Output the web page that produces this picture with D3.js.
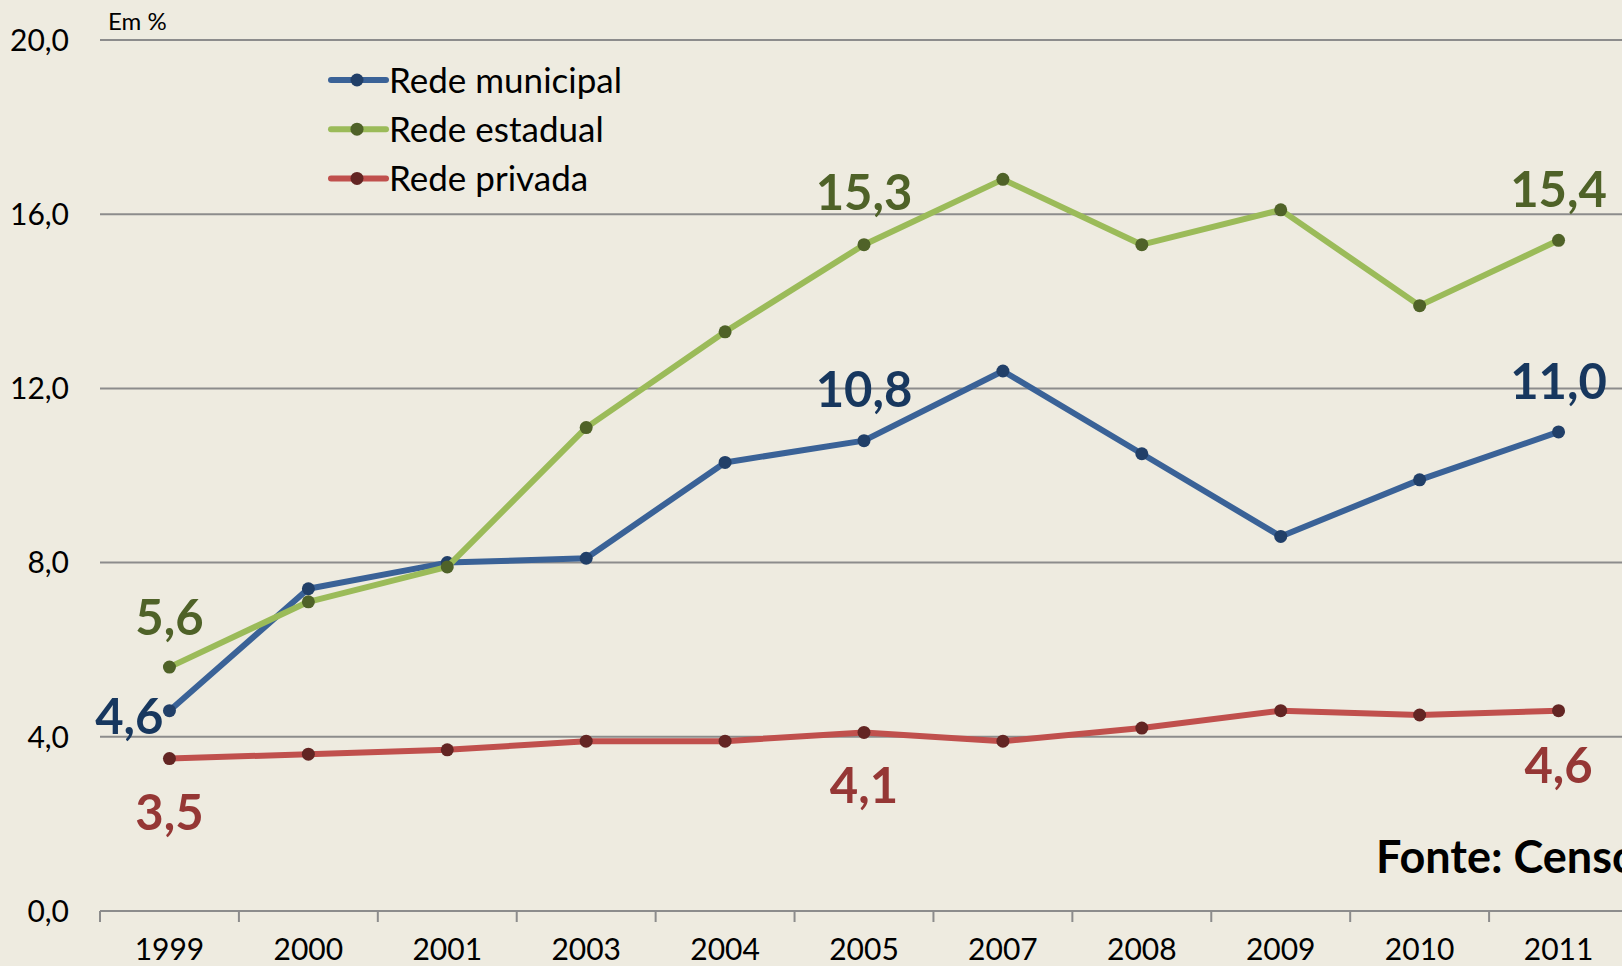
<!DOCTYPE html>
<meta charset="utf-8">
<style>
body { margin: 0; background: #eeebe0; }
svg { display: block; font-family: Lato, "Open Sans", sans-serif; }
.grid line { stroke: #8c8c8c; stroke-width: 2; }
.tick-label { font-size: 30px; fill: #000; }
</style>
<body>
<script src="https://d3js.org/d3.v7.min.js"></script>
<script>

// data
var years = ["1999", "2000", "2001", "2003", "2004", "2005", "2007", "2008", "2009", "2010", "2011"];
var municipal = [4.6, 7.4, 8.0, 8.1, 10.3, 10.8, 12.4, 10.5, 8.6, 9.9, 11.0];
var estadual  = [5.6, 7.1, 7.9, 11.1, 13.3, 15.3, 16.8, 15.3, 16.1, 13.9, 15.4];
var privada   = [3.5, 3.6, 3.7, 3.9, 3.9, 4.1, 3.9, 4.2, 4.6, 4.5, 4.6];
var yTicks = [0, 4, 8, 12, 16, 20];
var seriesNames = ["Rede municipal", "Rede estadual", "Rede privada"];

var w = 1622, h = 966;

var series = [
    {name: seriesNames[0], values: municipal, line: "#3a6297", dot: "#213f68", label: "#17375e"},
    {name: seriesNames[1], values: estadual,  line: "#9bbb59", dot: "#4f6228", label: "#4f6228"},
    {name: seriesNames[2], values: privada,   line: "#c0504d", dot: "#632523", label: "#953735"}
];

// which points carry a value label, and where (dx, dy from the point)
var labelled = [
    {s: 0, i: 0, dx: -6, dy: 23, anchor: "end"},
    {s: 0, i: 5, dx: 0, dy: -34, anchor: "middle"},
    {s: 0, i: 10, dx: 0, dy: -33, anchor: "middle"},
    {s: 1, i: 0, dx: 0, dy: -32, anchor: "middle"},
    {s: 1, i: 5, dx: 0, dy: -35, anchor: "middle"},
    {s: 1, i: 10, dx: 0, dy: -33, anchor: "middle"},
    {s: 2, i: 0, dx: 0, dy: 71, anchor: "middle"},
    {s: 2, i: 5, dx: 0, dy: 71, anchor: "middle"},
    {s: 2, i: 10, dx: 0, dy: 72, anchor: "middle"}
];

var x = d3.scaleBand().domain(years).range([100, 1628]);
var y = d3.scaleLinear().domain([0, 20]).range([911, 40]);

var fmt = function(v) { return d3.format(".1f")(v).replace(".", ","); };

var svg = d3.select("body").append("svg")
    .attr("width", w)
    .attr("height", h);

// gridlines
svg.append("g").attr("class", "grid")
    .selectAll("line")
    .data(yTicks)
    .enter().append("line")
    .attr("x1", 100).attr("x2", w)
    .attr("y1", function(d) { return y(d); })
    .attr("y2", function(d) { return y(d); });

// y labels
svg.append("g").selectAll("text")
    .data(yTicks)
    .enter().append("text")
    .attr("class", "tick-label")
    .attr("x", 69)
    .attr("y", function(d) { return y(d); })
    .attr("dy", "0.36em")
    .attr("text-anchor", "end")
    .text(fmt);

svg.append("text")
    .attr("x", 108).attr("y", 30)
    .style("font-size", "24px")
    .text("Em %");

// x axis ticks between categories
var bounds = years.map(function(d) { return x(d); }).concat([x(years[years.length - 1]) + x.bandwidth()]);
svg.append("g").selectAll("line")
    .data(bounds)
    .enter().append("line")
    .attr("x1", function(d) { return d; })
    .attr("x2", function(d) { return d; })
    .attr("y1", y(0)).attr("y2", y(0) + 11)
    .attr("stroke", "#8c8c8c").attr("stroke-width", 2);

svg.append("g").selectAll("text")
    .data(years)
    .enter().append("text")
    .attr("class", "tick-label")
    .attr("x", function(d) { return x(d) + x.bandwidth() / 2; })
    .attr("y", 960)
    .attr("text-anchor", "middle")
    .text(function(d) { return d; });

// lines + markers
var line = d3.line()
    .x(function(d, i) { return x(years[i]) + x.bandwidth() / 2; })
    .y(function(d) { return y(d); });

series.forEach(function(s) {
    svg.append("path")
        .datum(s.values)
        .attr("d", line)
        .attr("fill", "none")
        .attr("stroke", s.line)
        .attr("stroke-width", 6)
        .attr("stroke-linejoin", "round");

    svg.append("g").selectAll("circle")
        .data(s.values)
        .enter().append("circle")
        .attr("cx", function(d, i) { return x(years[i]) + x.bandwidth() / 2; })
        .attr("cy", function(d) { return y(d); })
        .attr("r", 6.5)
        .attr("fill", s.dot);
});

// value labels
svg.append("g").selectAll("text")
    .data(labelled)
    .enter().append("text")
    .attr("x", function(d) { return x(years[d.i]) + x.bandwidth() / 2 + d.dx; })
    .attr("y", function(d) { return y(series[d.s].values[d.i]) + d.dy; })
    .attr("text-anchor", function(d) { return d.anchor; })
    .style("font-size", "49px")
    .style("font-weight", "bold")
    .attr("fill", function(d) { return series[d.s].label; })
    .text(function(d) { return fmt(series[d.s].values[d.i]); });

// legend
var legend = svg.append("g").selectAll("g")
    .data(series)
    .enter().append("g")
    .attr("transform", function(d, i) { return "translate(0," + (80 + i * 49.2) + ")"; });

legend.append("line")
    .attr("x1", 331).attr("x2", 386)
    .attr("stroke", function(d) { return d.line; })
    .attr("stroke-width", 6)
    .attr("stroke-linecap", "round");

legend.append("circle")
    .attr("cx", 357).attr("r", 6.5)
    .attr("fill", function(d) { return d.dot; });

legend.append("text")
    .attr("x", 389)
    .attr("dy", "0.36em")
    .style("font-size", "35px")
    .text(function(d) { return d.name; });

// source note runs off the right edge, as in the reference
svg.append("text")
    .attr("x", 1376).attr("y", 873)
    .style("font-size", "45px")
    .style("font-weight", "bold")
    .text("Fonte: Censo");

</script>
</body>
